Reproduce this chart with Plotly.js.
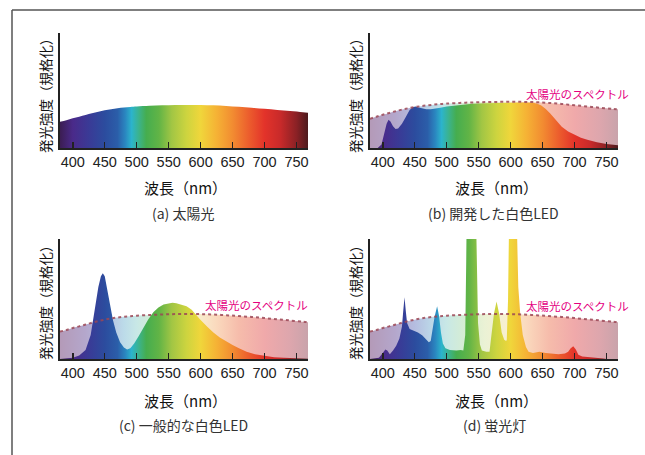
<!DOCTYPE html>
<html>
<head>
<meta charset="utf-8">
<script src="https://cdn.plot.ly/plotly-3.0.1.min.js"></script>
<style>html,body{margin:0;padding:0;background:#fff;}#chart{width:645px;height:455px;}</style>
</head>
<body>
<div id="chart"></div>
<script>
// ---------- data ----------
const tickValues = [400, 450, 500, 550, 600, 650, 700, 750];
const tickLabels = ['400', '450', '500', '550', '600', '650', '700', '750'];

// sunlight spectrum (normalized), panels a, c, d
const sunWl  = [380,390,400,410,420,430,440,450,460,470,480,490,500,520,540,560,580,600,620,640,660,680,700,720,740,760,768];
const sunVal = [0.228,0.242,0.258,0.272,0.287,0.302,0.316,0.328,0.338,0.346,0.352,0.357,0.361,0.367,0.371,0.374,0.375,0.374,0.371,0.365,0.358,0.350,0.341,0.331,0.321,0.311,0.306];

// sunlight spectrum as drawn in panel b
const sunBVal = [0.255,0.272,0.289,0.305,0.32,0.334,0.346,0.356,0.364,0.371,0.377,0.382,0.386,0.392,0.396,0.399,0.401,0.402,0.401,0.398,0.392,0.383,0.372,0.361,0.35,0.34,0.336];

// (b) developed white LED
const ledBWl  = [380,392,398,402,406,409,412,416,420,424,430,436,442,447,451,456,462,468,475,482,490,500,520,540,560,580,600,620,635,642,648,655,662,670,680,690,700,710,720,735,750,768];
const ledBVal = [0,0,0.03,0.12,0.21,0.245,0.23,0.19,0.165,0.17,0.21,0.27,0.33,0.355,0.36,0.352,0.342,0.337,0.338,0.342,0.35,0.36,0.375,0.385,0.39,0.393,0.395,0.395,0.393,0.385,0.37,0.34,0.3,0.25,0.185,0.143,0.113,0.09,0.072,0.05,0.035,0.023];

// (c) typical white LED
const ledCWl  = [380,390,400,410,420,428,434,440,444,447,450,454,458,463,468,474,480,485,490,496,503,510,518,526,534,542,550,556,562,570,578,586,594,600,610,620,630,640,650,660,672,685,700,715,730,750,768];
const ledCVal = [0,0.003,0.01,0.03,0.075,0.2,0.4,0.6,0.69,0.715,0.69,0.57,0.45,0.32,0.22,0.14,0.095,0.08,0.09,0.13,0.19,0.26,0.33,0.39,0.43,0.455,0.466,0.468,0.465,0.455,0.44,0.41,0.36,0.325,0.27,0.22,0.18,0.145,0.117,0.09,0.06,0.04,0.025,0.015,0.01,0.005,0.003];

// (d) fluorescent lamp
const fluorWl  = [380,394,400,404,407,411,416,421,426,430,432,434,436,438,442,448,455,462,468,472,475,478,481,485,488,491,494,498,505,515,522,526,529,530.5,531.5,545.5,547,549,552,555,562,567,570,574,578,582,586,590,593,594,596,598,609,612,615,619,624,628,635,645,655,665,675,685,690,694,698,702,706,712,725,738,745,750,768];
const fluorVal = [0,0.01,0.05,0.08,0.07,0.04,0.07,0.11,0.17,0.27,0.4,0.515,0.4,0.3,0.25,0.235,0.22,0.195,0.16,0.14,0.15,0.25,0.35,0.44,0.36,0.22,0.13,0.09,0.075,0.07,0.075,0.07,0.2,0.8,1.3,1.3,0.8,0.3,0.12,0.07,0.06,0.06,0.2,0.38,0.48,0.38,0.22,0.16,0.15,0.16,0.5,1.3,1.3,0.6,0.38,0.2,0.1,0.06,0.05,0.06,0.05,0.045,0.04,0.045,0.06,0.09,0.107,0.08,0.035,0.02,0.015,0.012,0.005,0,0];

// ---------- styles ----------
const WL0 = 380, WL1 = 768;
const rainbowStops = [
  [380,'#3b1d52'],[400,'#4a2a8a'],[425,'#3a3a96'],[450,'#2c4c9e'],
  [470,'#2b5ea9'],[482,'#2a86c0'],[492,'#2cb4cc'],[503,'#3bb38e'],
  [515,'#45ad4f'],[535,'#62b446'],[555,'#a2c644'],[578,'#cdd43f'],
  [600,'#f0d63b'],[625,'#f5b235'],[650,'#f28c31'],[675,'#ec5e2d'],
  [700,'#e3332a'],[725,'#c82a2a'],[750,'#8a2125'],[768,'#4d1a1d']
];
const pastelStops = [
  [380,'#b49ab8'],[420,'#b4a7cc'],[450,'#b5bde0'],[480,'#bcdbe9'],
  [500,'#c8e8e6'],[530,'#d7edd2'],[560,'#ebf2d5'],[595,'#f8efcf'],
  [625,'#fad9bd'],[660,'#f6bcab'],[700,'#f0a9aa'],[740,'#dda6ad'],
  [768,'#c9a3ab']
];
const toScale = stops => stops.map(s => [(s[0] - WL0) / (WL1 - WL0), s[1]]);
const rainbow = toScale(rainbowStops);
const pastel = toScale(pastelStops);

function gradFill(x, y, xa, ya, scale, smooth) {
  return {x: x, y: y, xaxis: xa, yaxis: ya, type: 'scatter', mode: 'lines',
    line: {width: 0, color: 'rgba(0,0,0,0)', shape: smooth ? 'spline' : 'linear'}, fill: 'tozeroy',
    fillgradient: {type: 'horizontal', start: WL0, stop: WL1, colorscale: scale},
    hoverinfo: 'skip', showlegend: false};
}
function dotted(x, y, xa, ya) {
  return {x: x, y: y, xaxis: xa, yaxis: ya, type: 'scatter', mode: 'lines',
    line: {width: 2, color: 'rgba(155,70,85,0.85)', dash: 'dot', shape: 'spline'},
    hoverinfo: 'skip', showlegend: false};
}

const traces = [
  gradFill(sunWl, sunVal, 'x', 'y', rainbow, true),

  gradFill(sunWl, sunBVal, 'x2', 'y2', pastel, true),
  gradFill(ledBWl, ledBVal, 'x2', 'y2', rainbow),
  dotted(sunWl, sunBVal, 'x2', 'y2'),

  gradFill(sunWl, sunVal, 'x3', 'y3', pastel, true),
  gradFill(ledCWl, ledCVal, 'x3', 'y3', rainbow),
  dotted(sunWl, sunVal, 'x3', 'y3'),

  gradFill(sunWl, sunVal, 'x4', 'y4', pastel, true),
  gradFill(fluorWl, fluorVal, 'x4', 'y4', rainbow),
  dotted(sunWl, sunVal, 'x4', 'y4')
];

const W = 645, H = 455;
const px = v => v / W;
const py = v => 1 - v / H;

function xax(x0, x1, anchor) {
  return {domain: [px(x0), px(x1)], anchor: anchor, range: [WL0, WL1],
    showgrid: false, zeroline: false, showline: true, linecolor: '#222', linewidth: 2,
    ticks: 'inside', ticklen: 6, tickwidth: 1.5, tickcolor: '#222',
    tickmode: 'array', tickvals: tickValues, ticktext: tickLabels,
    tickfont: {family: 'Liberation Sans, Arial, sans-serif', size: 14.5, color: '#222'},
    fixedrange: true};
}
function yax(y0, y1, anchor) {
  return {domain: [py(y1), py(y0)], anchor: anchor, range: [0, 1],
    showgrid: false, zeroline: false, showline: true, linecolor: '#222', linewidth: 2,
    ticks: '', showticklabels: false, fixedrange: true};
}

const cjk = 'Noto Sans CJK JP, sans-serif';
function ann(text, x, y, size, color, angle) {
  return {text: text, x: px(x), y: py(y), xref: 'paper', yref: 'paper',
    xanchor: 'center', yanchor: 'middle', showarrow: false,
    textangle: angle || 0,
    font: {family: cjk, size: size, color: color || '#222'}};
}
const sunLabel = '太陽光のスペクトル';
const magenta = '#e4007f';
const yTitle = '発光強度（規格化）';
const xTitle = '波長（nm）';

const layout = {
  width: W, height: H, margin: {l: 0, r: 0, t: 0, b: 0},
  paper_bgcolor: '#fff', plot_bgcolor: '#fff', showlegend: false,
  xaxis: xax(60, 308, 'y'),   yaxis: yax(33, 148, 'x'),
  xaxis2: xax(370, 618, 'y2'), yaxis2: yax(33, 148, 'x2'),
  xaxis3: xax(60, 308, 'y3'), yaxis3: yax(239, 359, 'x3'),
  xaxis4: xax(370, 618, 'y4'), yaxis4: yax(239, 359, 'x4'),
  annotations: [
    ann(yTitle, 45, 92, 13.5, '#111', -90),
    ann(yTitle, 355, 92, 13.5, '#111', -90),
    ann(yTitle, 45, 299, 13.5, '#111', -90),
    ann(yTitle, 355, 299, 13.5, '#111', -90),
    ann(xTitle, 185, 187, 15, '#111'),
    ann(xTitle, 497, 187, 15, '#111'),
    ann(xTitle, 185, 400, 15, '#111'),
    ann(xTitle, 497, 400, 15, '#111'),
    ann('(a) 太陽光', 183, 213, 14, '#333'),
    ann('(b) 開発した白色LED', 493, 213, 14, '#333'),
    ann('(c) 一般的な白色LED', 183, 425, 14, '#333'),
    ann('(d) 蛍光灯', 494, 425, 14, '#333'),
    ann(sunLabel, 577, 94, 11.5, magenta),
    ann(sunLabel, 256, 305, 11.5, magenta),
    ann(sunLabel, 577, 306, 11.5, magenta)
  ],
  shapes: [
    {type: 'line', xref: 'paper', yref: 'paper', x0: px(12), x1: 1, y0: py(10), y1: py(10), line: {color: '#555', width: 1.5}},
    {type: 'line', xref: 'paper', yref: 'paper', x0: px(12), x1: px(12), y0: 0, y1: py(10), line: {color: '#555', width: 1.5}}
  ]
};

Plotly.newPlot('chart', traces, layout, {staticPlot: true, displayModeBar: false});
</script>
</body>
</html>
